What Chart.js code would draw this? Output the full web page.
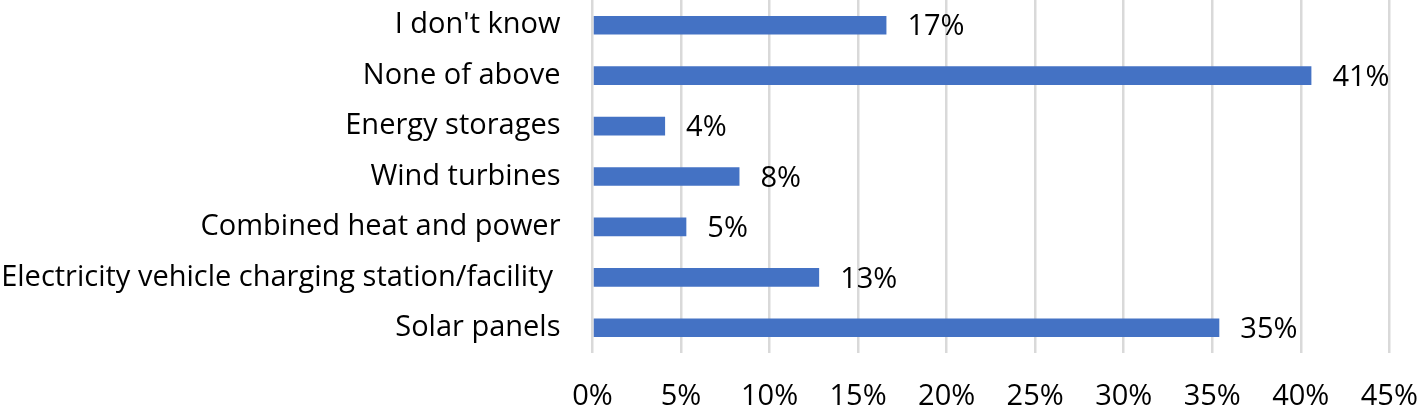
<!DOCTYPE html>
<html>
<head>
<meta charset="utf-8">
<script src="https://cdn.jsdelivr.net/npm/chart.js@4"></script>
<style>
    body {
        margin: 0;
        background: #fff;
    }
    .wrap {
        width: 1417px;
        height: 406px;
    }
</style>
</head>
<body>
<div class="wrap"><canvas id="barChart" width="1417" height="406"></canvas></div>
<script>
// categories top to bottom, as in the picture
const categories = [
    "I don't know",
    'None of above',
    'Energy storages',
    'Wind turbines',
    'Combined heat and power',
    'Electricity vehicle charging station/facility ',
    'Solar panels'
];
const shares = [16.6, 40.6, 4.1, 8.3, 5.3, 12.8, 35.4];
const xTicks = [0, 5, 10, 15, 20, 25, 30, 35, 40, 45];

const FONT = '"Open Sans", Lato, sans-serif';
const FONT_SIZE = 29;

// writes the rounded percentage right of each bar
const valueLabels = {
    id: 'valueLabels',
    afterDatasetsDraw(chart) {
        const ctx = chart.ctx;
        const meta = chart.getDatasetMeta(0);
        ctx.save();
        ctx.font = FONT_SIZE + 'px ' + FONT;
        ctx.fillStyle = '#000';
        ctx.textAlign = 'left';
        ctx.textBaseline = 'middle';
        meta.data.forEach((bar, i) => {
            ctx.fillText(Math.round(shares[i]) + '%', bar.x + 21, bar.y + 2);
        });
        ctx.restore();
    }
};

// no automatic padding from the tick labels, the frame is set by hand
function noPadding(axis) {
    axis.paddingTop = 0;
    axis.paddingBottom = 0;
    axis.paddingLeft = 0;
    axis.paddingRight = 0;
}

new Chart(document.getElementById('barChart').getContext('2d'), {
    type: 'bar',
    data: {
        labels: categories,
        datasets: [{
            data: shares,
            backgroundColor: '#4472C4',
            borderWidth: 0,
            barPercentage: 0.74,
            categoryPercentage: 0.5
        }]
    },
    options: {
        indexAxis: 'y',
        responsive: false,
        animation: false,
        layout: {
            padding: { left: 0, right: 27.7, top: 0, bottom: 0 }
        },
        plugins: {
            legend: { display: false },
            tooltip: { enabled: false }
        },
        scales: {
            x: {
                min: 0,
                max: 45,
                afterBuildTicks: (axis) => {
                    axis.ticks = xTicks.map(v => ({ value: v }));
                },
                afterFit: (axis) => {
                    axis.height = 53;
                    noPadding(axis);
                },
                grid: {
                    color: '#d9d9d9',
                    lineWidth: 2.5,
                    drawTicks: false
                },
                border: { display: false },
                ticks: {
                    callback: (v) => v + '%',
                    color: '#000',
                    font: { family: FONT, size: FONT_SIZE },
                    padding: 26,
                    maxRotation: 0
                }
            },
            y: {
                afterFit: (axis) => {
                    axis.width = 592.5;
                    noPadding(axis);
                },
                grid: { display: false, drawTicks: false },
                border: { display: false },
                ticks: {
                    color: '#000',
                    font: { family: FONT, size: FONT_SIZE },
                    padding: 32,
                    autoSkip: false
                }
            }
        }
    },
    plugins: [valueLabels]
});
</script>
</body>
</html>
